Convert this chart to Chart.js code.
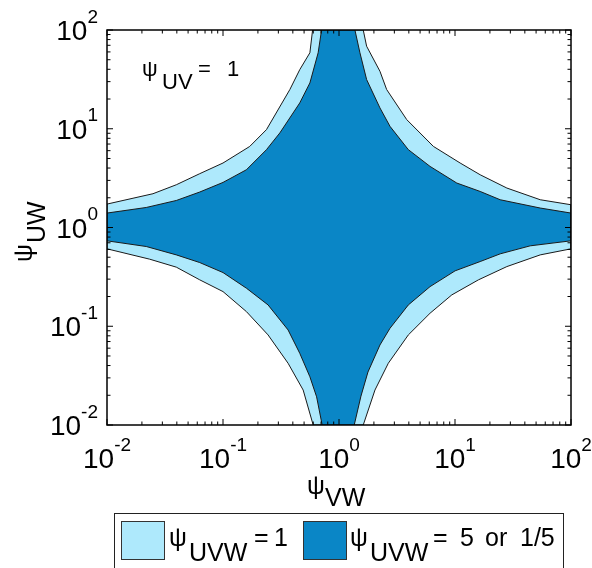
<!DOCTYPE html>
<html>
<head>
<meta charset="utf-8">
<script src="https://cdn.jsdelivr.net/npm/chart.js@4.4.1/dist/chart.umd.min.js"></script>
<style>
  html, body { margin: 0; padding: 0; background: #fff; }
  #wrap { width: 592px; height: 568px; }
</style>
</head>
<body>
<div id="wrap"><canvas id="chart" width="592" height="568"></canvas></div>
<script>
// Contour of psi_UVW = 1, one piece per quadrant, as [psiVW, psiUW]
const lightUpperLeft = [[0.01, 1.726], [0.0249, 2.198], [0.0396, 2.71], [0.063, 3.508], [0.1, 4.498],
  [0.170, 6.62], [0.237, 9.80], [0.377, 24.95], [0.459, 39.7], [0.561, 58.8], [0.592, 100]];
const lightUpperRight = [[1.618, 100], [1.730, 68.5], [2.254, 38.2], [2.576, 24.95], [3.837, 12.37],
  [6.51, 6.63], [11.07, 4.50], [16.48, 3.42], [28.0, 2.51], [54.3, 1.91], [100, 1.70]];
const lightLowerRight = [[100, 0.608], [54.3, 0.528], [28.0, 0.402], [15.92, 0.295], [9.385, 0.2077],
  [6.095, 0.1355], [3.96, 0.0817], [2.661, 0.0422], [2.042, 0.0226], [1.618, 0.01]];
const lightLowerLeft = [[0.599, 0.01], [0.491, 0.0226], [0.364, 0.0422], [0.2446, 0.0817], [0.1592, 0.1406],
  [0.1, 0.2244], [0.063, 0.2951], [0.0396, 0.3966], [0.0233, 0.478], [0.01, 0.608]];

// Contour of psi_UVW = 5 or 1/5
const darkUpperLeft = [[0.01, 1.40], [0.0218, 1.595], [0.0396, 1.878], [0.063, 2.286], [0.1, 2.86],
  [0.1592, 3.846], [0.237, 6.14], [0.309, 9.07], [0.459, 18.27], [0.561, 29.1], [0.661, 58.8], [0.7075, 100]];
const darkUpperRight = [[1.372, 100], [1.515, 58.8], [1.730, 31.5], [2.254, 16.26], [2.752, 10.58],
  [3.96, 6.14], [6.095, 4.157], [10.36, 2.82], [16.48, 2.318], [24.52, 1.91], [54.3, 1.574], [100, 1.40]];
const darkLowerRight = [[100, 0.733], [44.5, 0.652], [24.52, 0.541], [16.48, 0.452], [10.02, 0.364],
  [6.095, 0.252], [3.96, 0.1644], [2.752, 0.0954], [2.254, 0.0646], [1.777, 0.0344], [1.546, 0.0196], [1.353, 0.01]];
const darkLowerLeft = [[0.716, 0.01], [0.641, 0.0193], [0.561, 0.0308], [0.459, 0.0532], [0.364, 0.0917],
  [0.2446, 0.1644], [0.1592, 0.2428], [0.1, 0.3497], [0.063, 0.4416], [0.0396, 0.528], [0.0218, 0.642], [0.01, 0.733]];

// Axis decades and their exponent labels
const decades = [0.01, 0.1, 1, 10, 100];
const decadeExponents = ['-2', '-1', '0', '1', '2'];

const LIGHT = '#aee9fc';
const DARK = '#0a86c6';
const EDGE = '#1a1a1a';
const FONT = '"Liberation Sans", Arial, Helvetica, sans-serif';

function font(size) {
  return size + 'px ' + FONT;
}

// closed outline: left edge -> top -> right edge -> bottom -> back
function ring(parts) {
  const pts = [].concat.apply([], parts);
  pts.push(pts[0]);
  return pts.map(function(p) { return { x: p[0], y: p[1] }; });
}

// "10" with a raised exponent
function drawPower(ctx, exp, x, y, align) {
  ctx.font = font(28);
  const wb = ctx.measureText('10').width;
  ctx.font = font(19);
  const we = ctx.measureText(exp).width;
  const x0 = align === 'right' ? x - wb - we : x - (wb + we) / 2;
  ctx.textAlign = 'left';
  ctx.font = font(28);
  ctx.fillText('10', x0, y);
  ctx.font = font(19);
  ctx.fillText(exp, x0 + wb, y - 17.5);
}

const frame = {
  id: 'frame',
  afterDraw: function(chart) {
    const ctx = chart.ctx;
    const area = chart.chartArea;
    const xs = chart.scales.x;
    const ys = chart.scales.y;

    ctx.save();
    ctx.strokeStyle = '#000';
    ctx.fillStyle = '#000';
    ctx.textBaseline = 'alphabetic';

    // inward ticks on all four sides
    ctx.lineWidth = 1;
    ctx.beginPath();
    decades.forEach(function(d) {
      for (let m = 1; m < 10; m++) {
        const v = d * m;
        if (v > 100) break;
        const len = m === 1 ? 6 : 3.5;
        const px = xs.getPixelForValue(v);
        const py = ys.getPixelForValue(v);
        ctx.moveTo(px, area.bottom); ctx.lineTo(px, area.bottom - len);
        ctx.moveTo(px, area.top); ctx.lineTo(px, area.top + len);
        ctx.moveTo(area.left, py); ctx.lineTo(area.left + len, py);
        ctx.moveTo(area.right, py); ctx.lineTo(area.right - len, py);
      }
    });
    ctx.stroke();

    ctx.lineWidth = 1.5;
    ctx.strokeRect(area.left, area.top, area.right - area.left, area.bottom - area.top);

    // tick labels
    decades.forEach(function(d, i) {
      drawPower(ctx, decadeExponents[i], xs.getPixelForValue(d), area.bottom + 43, 'center');
      drawPower(ctx, decadeExponents[i], area.left - 9, ys.getPixelForValue(d) + 10, 'right');
    });

    // axis titles
    ctx.textAlign = 'left';
    ctx.font = font(25);
    ctx.fillText('ψ', 307, 494);
    ctx.fillText('VW', 325, 506);

    ctx.save();
    ctx.rotate(-Math.PI / 2);
    ctx.fillText('ψ', -262, 32);
    ctx.fillText('UW', -243, 45);
    ctx.restore();

    // label inside the plot
    ctx.font = font(22);
    ctx.fillText('ψ', 142, 76);
    ctx.fillText('UV', 162, 89);
    ctx.fillText('=', 198, 76);
    ctx.fillText('1', 227, 76);

    // legend
    ctx.lineWidth = 1;
    ctx.strokeStyle = '#222';
    ctx.strokeRect(114.5, 513.5, 449, 80);

    ctx.strokeStyle = '#333';
    ctx.fillStyle = LIGHT;
    ctx.fillRect(121.5, 521.5, 43, 38);
    ctx.strokeRect(121.5, 521.5, 43, 38);
    ctx.fillStyle = DARK;
    ctx.fillRect(303.5, 521.5, 43, 38);
    ctx.strokeRect(303.5, 521.5, 43, 38);

    ctx.fillStyle = '#000';
    ctx.font = font(25);
    ctx.fillText('ψ', 169, 546);
    ctx.fillText('UVW', 189, 561);
    ctx.fillText('=', 254, 546);
    ctx.fillText('1', 274, 546);
    ctx.fillText('ψ', 350, 546);
    ctx.fillText('UVW', 370, 561);
    ctx.fillText('=', 433, 546);
    ctx.fillText('5', 460, 546);
    ctx.fillText('or', 485, 546);
    ctx.fillText('1/5', 520, 546);

    ctx.restore();
  }
};

new Chart(document.getElementById('chart'), {
  type: 'scatter',
  data: {
    datasets: [
      {
        label: 'ψUVW = 5 or 1/5',
        data: ring([darkUpperLeft, darkUpperRight, darkLowerRight, darkLowerLeft]),
        order: 1,
        showLine: true,
        fill: 'shape',
        backgroundColor: DARK,
        borderColor: EDGE,
        borderWidth: 1,
        pointRadius: 0,
        tension: 0
      },
      {
        label: 'ψUVW = 1',
        data: ring([lightUpperLeft, lightUpperRight, lightLowerRight, lightLowerLeft]),
        order: 2,
        showLine: true,
        fill: 'shape',
        backgroundColor: LIGHT,
        borderColor: EDGE,
        borderWidth: 1,
        pointRadius: 0,
        tension: 0
      }
    ]
  },
  options: {
    responsive: false,
    animation: false,
    layout: { padding: { left: 107, top: 30, right: 21, bottom: 143 } },
    plugins: {
      legend: { display: false },
      tooltip: { enabled: false }
    },
    scales: {
      x: { type: 'logarithmic', min: 0.01, max: 100, display: false },
      y: { type: 'logarithmic', min: 0.01, max: 100, display: false }
    }
  },
  plugins: [frame]
});
</script>
</body>
</html>
